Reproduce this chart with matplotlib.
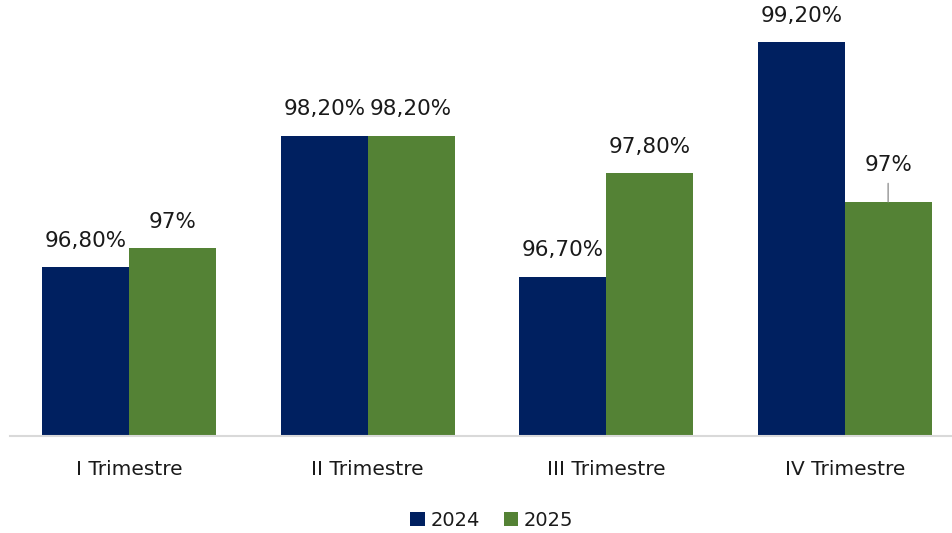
import matplotlib.pyplot as plt
import numpy as np

# data
categories = ["I Trimestre", "II Trimestre", "III Trimestre", "IV Trimestre"]
years = ["2024", "2025"]
vals_2024 = [96.8, 98.2, 96.7, 99.2]
vals_2025 = [97.0, 98.2, 97.8, 97.5]
labels_2024 = ["96,80%", "98,20%", "96,70%", "99,20%"]
labels_2025 = ["97%", "98,20%", "97,80%", "97%"]

colors = ["#002060", "#548235"]

plt.rcParams['font.family'] = ['DejaVu Sans']

fig = plt.figure(figsize=(9.52, 5.33), dpi=100)
ax = fig.add_axes([10/952, 97/533, 954/952, 436/533])

x = np.arange(len(categories))
w = 0.364
b1 = ax.bar(x - w/2, np.array(vals_2024) - 95, w, bottom=95, color=colors[0], label=years[0])
b2 = ax.bar(x + w/2, np.array(vals_2025) - 95, w, bottom=95, color=colors[1], label=years[1])

ax.set_xlim(-0.5, 3.5)
ax.set_ylim(95, 99.65)

for bars, labs in ((b1, labels_2024), (b2, labels_2025)):
    for i, (r, lab) in enumerate(zip(bars, labs)):
        top = r.get_y() + r.get_height()
        off = 12
        if bars is b2 and i == 3:
            # label pulled up with a leader line
            off = 19
            ax.annotate("", xy=(r.get_x() + r.get_width()/2, top),
                        xytext=(0, 13), textcoords="offset points",
                        arrowprops=dict(arrowstyle="-", color="#A6A6A6", lw=1.2,
                                        shrinkA=0, shrinkB=0))
        ax.annotate(lab, (r.get_x() + r.get_width()/2, top), xytext=(0, off),
                    textcoords="offset points", ha="center", va="bottom",
                    fontsize=15.5, color="#1a1a1a")

ax.set_xticks(x)
ax.set_xticklabels(categories, fontsize=14.5, color="#1a1a1a")
ax.tick_params(axis="x", length=0, pad=17)
ax.set_yticks([])
for s in ("top", "right", "left"):
    ax.spines[s].set_visible(False)
ax.spines["bottom"].set_color("#D9D9D9")
ax.spines["bottom"].set_linewidth(1.5)

fig.legend(loc="center", bbox_to_anchor=(492/952, 1 - 520/533), ncol=2, frameon=False,
           fontsize=14, handlelength=0.75, handleheight=0.75, handletextpad=0.3,
           columnspacing=1.2, labelcolor="#1a1a1a")

fig.savefig("out.png", dpi=100)
